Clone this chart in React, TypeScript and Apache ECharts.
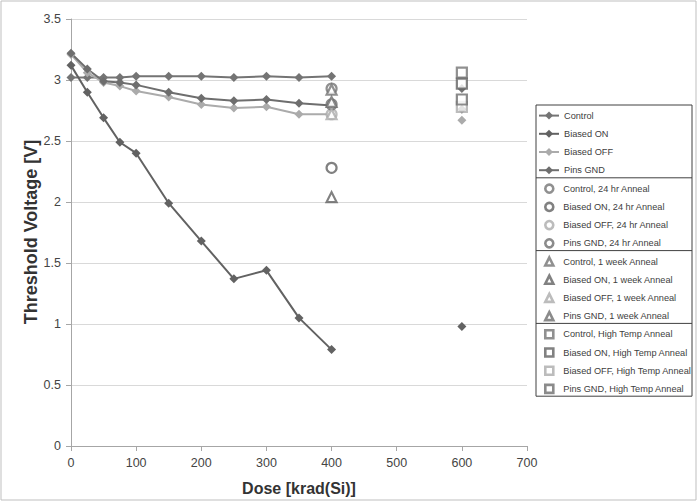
import React, { useEffect, useRef } from "react";
import * as echarts from "echarts";

// Dose steps (krad(Si)); 500 is an empty cell that breaks the lines
const doses = [0, 25, 50, 75, 100, 150, 200, 250, 300, 350, 400, 500, 600];

const controlVals = [3.02, 3.02, 3.02, 3.02, 3.03, 3.03, 3.03, 3.02, 3.03, 3.02, 3.03, null, 2.93];
const biasedOnVals = [3.12, 2.90, 2.69, 2.49, 2.40, 1.99, 1.68, 1.37, 1.44, 1.05, 0.79, null, 0.98];
const biasedOffVals = [3.21, 3.06, 2.98, 2.95, 2.91, 2.86, 2.80, 2.77, 2.78, 2.72, 2.72, null, 2.67];
const pinsGndVals = [3.22, 3.09, 2.99, 2.98, 2.96, 2.90, 2.85, 2.83, 2.84, 2.81, 2.79, null, 2.76];

const groups = ["Control", "Biased ON", "Biased OFF", "Pins GND"];
const groupColors = ["#747474", "#626262", "#ababab", "#6e6e6e"];

// Anneal results: [Control, Biased ON, Biased OFF, Pins GND]
const anneal24Dose = 400;
const anneal24Vals = [2.93, 2.28, 2.72, 2.80];
const anneal1wDose = 400;
const anneal1wVals = [2.92, 2.04, 2.72, 2.82];
const annealHTDose = 600;
const annealHTVals = [3.06, 2.97, 2.78, 2.84];

const xTicks = { min: 0, max: 700, interval: 100 };
const yTicks = { min: 0, max: 3.5, interval: 0.5 };
const yTitle = "Threshold Voltage [V]";
const xTitle = "Dose [krad(Si)]";

const FONT = "'Liberation Sans', 'Noto Sans', sans-serif";

export default function App() {
  const ref = useRef<HTMLDivElement>(null);
  useEffect(() => {
    if (!ref.current) return;
    const chart = echarts.init(ref.current, undefined, { renderer: "svg" });
    const lineSets = [controlVals, biasedOnVals, biasedOffVals, pinsGndVals];
    const series: any[] = [];
    lineSets.forEach((vals, i) => {
      series.push({
        name: groups[i],
        type: "line",
        data: doses.map((d, k) => [d, vals[k] === null ? "-" : vals[k]]),
        symbol: "diamond",
        symbolSize: 9,
        connectNulls: false,
        lineStyle: { color: groupColors[i], width: 2 },
        itemStyle: { color: groupColors[i] },
        z: 2,
      });
    });
    const annealSets = [
      { label: "24 hr Anneal", dose: anneal24Dose, vals: anneal24Vals, symbol: "circle", size: 10 },
      { label: "1 week Anneal", dose: anneal1wDose, vals: anneal1wVals, symbol: "triangle", size: 10 },
      { label: "High Temp Anneal", dose: annealHTDose, vals: annealHTVals, symbol: "rect", size: 10 },
    ];
    annealSets.forEach((set, si) => {
      set.vals.forEach((v, i) => {
        series.push({
          name: `${groups[i]}, ${set.label}`,
          type: "scatter",
          data: [[set.dose, v]],
          symbol: set.symbol,
          symbolSize: set.size,
          itemStyle: { color: "#ffffff", borderColor: groupColors[i], borderWidth: 2.2 },
          z: 3 + si,
        });
      });
    });

    const legendTop = 105;
    const pitch = 18.2;
    const boxLeft = 536;
    const boxW = 156;
    const boxH = pitch * 16;

    const legends = series.map((s, i) => {
      const center = legendTop + pitch * (i + 0.5) + 1.5;
      const isLine = s.type === "line";
      const lg: any = {
        orient: "vertical",
        left: isLine ? 538 : 544,
        top: center - 5,
        padding: 0,
        itemWidth: isLine ? 20 : 8,
        itemHeight: isLine ? 10 : 8,
        selectedMode: false,
        textStyle: {
          fontFamily: FONT,
          fontSize: 9.2,
          color: "#404040",
          lineHeight: 10,
          padding: isLine ? [0, 0, 0, 0] : [0, 0, 0, 5],
        },
        data: [s.name],
      };
      if (!isLine) lg.itemStyle = { borderWidth: 2.6 };
      return lg;
    });

    chart.setOption({
      animation: false,
      backgroundColor: "#ffffff",
      textStyle: { fontFamily: FONT },
      grid: { left: 71, right: 170, top: 19, bottom: 55 },
      xAxis: {
        type: "value",
        min: xTicks.min,
        max: xTicks.max,
        interval: xTicks.interval,
        name: xTitle,
        nameLocation: "middle",
        nameGap: 34,
        nameTextStyle: { fontFamily: FONT, fontWeight: "bold", fontSize: 16, color: "#333333" },
        axisLine: { show: true, lineStyle: { color: "#a6a6a6" } },
        axisTick: { show: true, length: 5, lineStyle: { color: "#a6a6a6" } },
        axisLabel: { fontFamily: FONT, fontSize: 12.5, color: "#444444", margin: 10 },
        splitLine: { show: false },
      },
      yAxis: {
        type: "value",
        min: yTicks.min,
        max: yTicks.max,
        interval: yTicks.interval,
        axisLine: { show: true, lineStyle: { color: "#a6a6a6" } },
        axisTick: { show: true, length: 5, lineStyle: { color: "#a6a6a6" } },
        axisLabel: { fontFamily: FONT, fontSize: 12.5, color: "#444444", margin: 10 },
        splitLine: { show: true, lineStyle: { color: "#d9d9d9", width: 1 } },
      },
      legend: legends,
      graphic: [
        {
          type: "rect",
          shape: { x: 1, y: 1, width: 695, height: 499 },
          style: { fill: "none", stroke: "#bfbfbf", lineWidth: 1 },
          silent: true,
        },
        {
          type: "text",
          x: 31,
          y: 232,
          rotation: Math.PI / 2,
          style: {
            text: yTitle,
            fontFamily: FONT,
            fontWeight: "bold",
            fontSize: 18,
            fill: "#333333",
            align: "center",
            verticalAlign: "middle",
          },
          silent: true,
        },
        {
          type: "rect",
          shape: { x: boxLeft, y: legendTop, width: boxW, height: boxH },
          style: { fill: "none", stroke: "#404040", lineWidth: 1 },
          silent: true,
        },
        ...[1, 2, 3].map((k) => ({
          type: "line",
          shape: { x1: boxLeft, y1: legendTop + pitch * 4 * k, x2: boxLeft + boxW, y2: legendTop + pitch * 4 * k },
          style: { stroke: "#404040", lineWidth: 1 },
          silent: true,
        })),
      ],
      series,
    });
    return () => chart.dispose();
  }, []);
  return (
    <div
      ref={ref}
      style={{ position: "fixed", left: 0, top: 0, width: 697, height: 501 }}
    />
  );
}
